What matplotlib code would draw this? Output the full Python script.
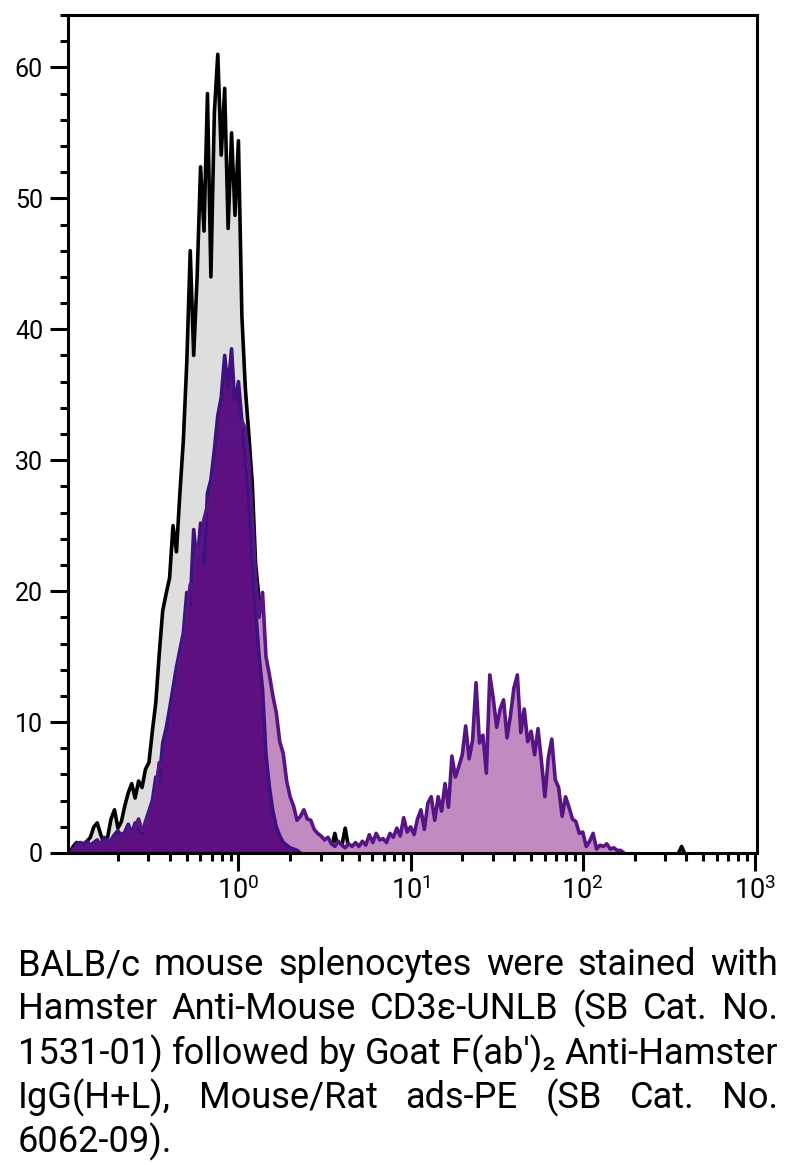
import numpy as np
import matplotlib
matplotlib.use("Agg")
import matplotlib.pyplot as plt
from matplotlib.ticker import FixedLocator, MultipleLocator

plt.rcParams["font.family"] = ["Roboto", "DejaVu Sans"]
plt.rcParams["mathtext.fontset"] = "custom"
plt.rcParams["mathtext.rm"] = "Roboto"

# histogram channels: log10 bin centres start at -0.98, step 0.02
LOG_START = -0.98
LOG_STEP = 0.02

# control (grey fill, black outline)
control = [
    0, 0.5, 0.8, 0.4, 0.6, 0.9, 1.2, 2.0, 2.3, 1.4,
    0.7, 1.2, 2.6, 3.3, 1.9, 2.4, 3.6, 4.6, 5.3, 4.2,
    5.5, 5.0, 6.4, 6.9, 9.3, 11.5, 15.2, 18.5, 19.8, 21.0,
    25.0, 23.0, 27.5, 31.5, 37.5, 46.0, 38.0, 44.0, 52.4, 47.5,
    58.0, 44.0, 56.5, 61.0, 53.3, 58.4, 47.7, 55.0, 48.7, 54.4,
    41.0, 35.5, 32.0, 28.3, 22.0, 19.4, 15.5, 12.0, 9.5, 7.0,
    5.0, 3.8, 2.8, 2.2, 1.8, 1.4, 1.2, 0.9, 0.7, 0.5,
    0.6, 0.8, 0.4, 0.9, 0.5, 1.1, 0.4, 1.5, 0.3, 0.5,
    1.9, 0.4, 0.2, 0.3, 0.1, 0.2, 0,
]
control_tail_x = [360, 375, 390]
control_tail = [0, 0.5, 0]

# secondary only (dark purple fill)
secondary = [
    0, 0, 0.7, 0.8, 0.7, 0.9, 0.6, 0.8, 1.0, 0.6,
    1.2, 0.8, 1.0, 1.4, 1.7, 1.2, 1.6, 2.2, 1.5, 2.3,
    1.8, 1.5, 2.4, 3.2, 4.0, 5.8, 5.5, 8.4, 9.5, 11.0,
    12.6, 14.2, 15.5, 16.8, 19.9, 19.0, 24.7, 22.0, 25.2, 22.0,
    27.5, 28.5, 30.8, 33.4, 34.8, 38.0, 35.5, 38.5, 34.0, 36.0,
    33.0, 30.0, 27.0, 22.5, 18.5, 15.0, 12.5, 7.5, 5.0, 3.2,
    2.0, 1.3, 0.8, 0.6, 0.4, 0.3, 0.2, 0,
]

# CD3e stained (pink fill, purple outline)
stained = [
    0, 0.3, 0.5, 0.6, 0.4, 0.7, 0.5, 0.6, 0.9, 0.5,
    0.8, 1.0, 0.7, 1.2, 0.9, 1.5, 1.1, 1.9, 1.3, 2.0,
    2.6, 1.7, 2.2, 2.9, 3.5, 4.8, 6.9, 6.5, 8.0, 9.2,
    11.5, 12.5, 14.8, 15.5, 18.0, 20.5, 20.0, 23.5, 22.5, 25.5,
    26.5, 27.0, 29.0, 30.5, 32.0, 31.0, 33.5, 30.5, 34.5, 31.5,
    33.0, 32.4, 30.0, 26.0, 21.0, 18.0, 19.9, 15.0, 13.6, 12.0,
    10.7, 8.5, 7.6, 5.5, 4.3, 3.6, 2.5, 2.8, 3.3, 2.6,
    2.5, 1.8, 1.5, 1.3, 1.0, 1.2, 0.7, 0.5, 0.9, 0.6,
    0.4, 0.7, 0.5, 0.8, 0.5, 0.9, 0.6, 1.4, 0.8, 1.5,
    1.0, 1.1, 0.8, 1.5, 1.2, 1.9, 1.3, 2.7, 1.6, 2.0,
    1.4, 2.6, 3.3, 1.8, 3.8, 4.3, 2.5, 4.3, 3.2, 5.3,
    3.5, 7.4, 5.8, 6.6, 7.5, 9.7, 7.2, 8.6, 13.0, 8.4,
    9.0, 6.1, 13.6, 11.8, 9.6, 11.0, 11.7, 8.8, 10.5, 12.6,
    13.6, 9.2, 11.0, 8.5, 9.3, 7.5, 9.5, 7.0, 4.3, 7.3,
    8.7, 5.6, 5.0, 2.8, 4.3, 3.5, 2.6, 2.4, 1.5, 1.6,
    0.5, 0.9, 1.5, 0.3, 0.6, 0.5, 0.7, 0.3, 0.4, 0.2,
    0.2, 0,
]

x_major = [1, 10, 100, 1000]
x_labels = [r"$\mathregular{10^{%d}}$" % k for k in range(4)]
y_major = [0, 10, 20, 30, 40, 50, 60]

CAPTION_LINES = [
    "BALB/c mouse splenocytes were stained with",
    "Hamster Anti-Mouse CD3\u03b5-UNLB (SB Cat. No.",
    "1531-01) followed by Goat F(ab')\u2082 Anti-Hamster",
    "IgG(H+L), Mouse/Rat ads-PE (SB Cat. No.",
    "6062-09).",
]


def channels(vals):
    return 10 ** (LOG_START + LOG_STEP * np.arange(len(vals)))


W, H = 790, 1165
fig = plt.figure(figsize=(W / 100, H / 100), dpi=100)
ax = fig.add_axes([68 / W, 1 - 853 / H, (757 - 68) / W, (853 - 15) / H])
ax.set_xscale("log")

LW = 2.2
HW = 2.6  # histogram outlines
x = channels(control)
ax.fill_between(x, 0, control, color="#dedede", lw=0, zorder=1)
ax.plot(x, control, color="black", lw=HW, zorder=1.1)
ax.plot(control_tail_x, control_tail, color="black", lw=HW, zorder=1.1)

x = channels(stained)
ax.fill_between(x, 0, stained, color="#c18ac1", lw=0, zorder=1.2)
x2 = channels(secondary)
ax.fill_between(x2, 0, secondary, color="#5e1080", lw=0, zorder=1.3)
ax.plot(x2, secondary, color="#3e1080", lw=HW, zorder=1.4)
ax.plot(x, stained, color="#571484", lw=HW, zorder=1.5)

ax.set_xlim(10 ** -0.99, 10 ** 3.012)
ax.set_ylim(0, 64)

ax.xaxis.set_major_locator(FixedLocator(x_major))
ax.set_xticklabels(x_labels)
ax.xaxis.set_minor_locator(FixedLocator(
    [k * 10.0 ** d for d in range(-1, 3) for k in range(2, 10)]))
ax.xaxis.set_minor_formatter(plt.NullFormatter())
ax.yaxis.set_major_locator(FixedLocator(y_major))
ax.yaxis.set_minor_locator(MultipleLocator(2))

ax.tick_params(which="major", direction="out", length=13, width=LW,
               pad=5, color="black")
ax.tick_params(axis="y", which="major", labelsize=18)
ax.tick_params(axis="x", which="major", labelsize=19.5, pad=4)
ax.tick_params(which="minor", direction="out", length=6, width=LW)
for s in ax.spines.values():
    s.set_linewidth(LW)
    s.set_zorder(3)

# justified caption
r = fig.canvas.get_renderer()


def text_w(s, size):
    t = fig.text(0, 0, s, fontsize=size)
    w = t.get_window_extent(renderer=r).width
    t.remove()
    return w


CAP_LEFT, CAP_RIGHT = 18, 778
CAP_BASE = [975, 1019, 1064, 1108, 1152]
size = 26.5
widest = max(text_w(l, size) for l in CAPTION_LINES[:-1])
if widest > CAP_RIGHT - CAP_LEFT:
    size *= (CAP_RIGHT - CAP_LEFT) / widest

for k, line in enumerate(CAPTION_LINES):
    words = line.split()
    ws = [text_w(w, size) for w in words]
    if k < len(CAPTION_LINES) - 1:
        gap = (CAP_RIGHT - CAP_LEFT - sum(ws)) / (len(words) - 1)
    else:
        gap = text_w("a a", size) - 2 * text_w("a", size)
    xp = CAP_LEFT
    for w, wd in zip(words, ws):
        fig.text(xp / W, 1 - CAP_BASE[k] / H, w, fontsize=size,
                 va="baseline", ha="left")
        xp += wd + gap

fig.savefig("out.png", dpi=100)
